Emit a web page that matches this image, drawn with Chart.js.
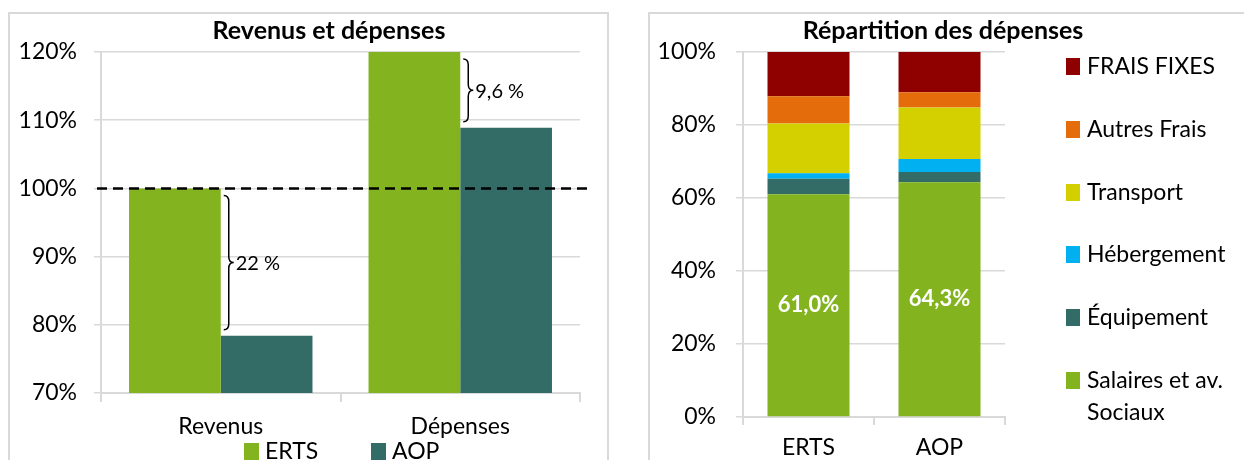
<!DOCTYPE html>
<html lang="fr">
<head>
<meta charset="utf-8">
<title>Revenus et dépenses</title>
<script src="https://cdn.jsdelivr.net/npm/chart.js"></script>
<style>
  html, body { margin: 0; padding: 0; background: #fff; }
  body { width: 1244px; height: 460px; position: relative; overflow: hidden; }
  .box { position: absolute; border: 2px solid #d9d9d9; box-sizing: border-box; }
  canvas { position: absolute; top: 0; }
</style>
</head>
<body>
<div class="box" style="left:8px; top:12px; width:601px; height:520px;"></div>
<div class="box" style="left:648px; top:12px; width:640px; height:520px;"></div>
<canvas id="revChart" width="620" height="460" style="left:0"></canvas>
<canvas id="repChart" width="614" height="460" style="left:630px"></canvas>
<script>
// Revenus et dépenses (base 100 = revenus ERTS)
const revCategories = ['Revenus', 'Dépenses'];
const ertsValues = [100, 120.5];
const aopValues = [78.4, 108.9];
const gapLabels = ['22 %', '9,6 %'];

// Répartition des dépenses (en % du total)
const groups = ['ERTS', 'AOP'];
const salaires = [61.0, 64.3];
const equipement = [4.3, 2.8];
const hebergement = [1.5, 3.6];
const transport = [13.6, 14.1];
const autresFrais = [7.5, 4.2];
const fraisFixes = [12.1, 11.0];

const GREEN = '#83b41f';
const TEAL = '#336b66';
const GRID = '#d9d9d9';
const FONT = 'Lato, "Open Sans", sans-serif';

Chart.defaults.font.family = FONT;
Chart.defaults.color = '#000';

function drawTitle(ctx, text, x) {
  ctx.save();
  ctx.font = 'bold 25px ' + FONT;
  ctx.fillStyle = '#000';
  ctx.textAlign = 'center';
  ctx.textBaseline = 'middle';
  ctx.fillText(text, x, 31);
  ctx.restore();
}

// curly brace between y1 (top) and y2 (bottom), opening to the left
function drawBrace(ctx, x, y1, y2, w) {
  const mid = (y1 + y2) / 2;
  const r = Math.min(6, (y2 - y1) / 4);
  const xm = x + w / 2;
  ctx.beginPath();
  ctx.moveTo(x, y1);
  ctx.quadraticCurveTo(xm, y1, xm, y1 + r);
  ctx.lineTo(xm, mid - r);
  ctx.quadraticCurveTo(xm, mid, x + w, mid);
  ctx.quadraticCurveTo(xm, mid, xm, mid + r);
  ctx.lineTo(xm, y2 - r);
  ctx.quadraticCurveTo(xm, y2, x, y2);
  ctx.stroke();
}

const revDecor = {
  id: 'revDecor',
  afterDatasetsDraw(chart) {
    const { ctx, chartArea, scales } = chart;
    const y = scales.y;

    // reference line at 100 %
    ctx.save();
    ctx.strokeStyle = '#000';
    ctx.lineWidth = 2.5;
    ctx.setLineDash([10, 6]);
    ctx.beginPath();
    ctx.moveTo(chartArea.left - 4, y.getPixelForValue(100));
    ctx.lineTo(chartArea.right + 8, y.getPixelForValue(100));
    ctx.stroke();
    ctx.setLineDash([]);

    // braces showing the gap ERTS / AOP
    const erts = chart.getDatasetMeta(0).data;
    ctx.lineWidth = 1.5;
    ctx.font = '20px ' + FONT;
    ctx.textBaseline = 'middle';
    ctx.fillStyle = '#000';
    revCategories.forEach((c, i) => {
      const bar = erts[i];
      const x0 = bar.x + bar.width / 2 + 3;
      const top = Math.max(y.getPixelForValue(ertsValues[i]), chartArea.top) + 7;
      const bottom = y.getPixelForValue(aopValues[i]) - 6;
      drawBrace(ctx, x0, top, bottom, 10);
      ctx.fillText(gapLabels[i], x0 + 12, (top + bottom) / 2 + 1);
    });
    ctx.restore();
  },
  afterDraw(chart) {
    const ctx = chart.ctx;
    drawTitle(ctx, 'Revenus et dépenses', 329);
    // legend under the axis
    const items = [[244, GREEN, 'ERTS'], [371, TEAL, 'AOP']];
    ctx.save();
    ctx.font = '23px ' + FONT;
    ctx.textBaseline = 'middle';
    items.forEach(([x, col, txt]) => {
      ctx.fillStyle = col;
      ctx.fillRect(x, 443, 15, 17);
      ctx.fillStyle = '#000';
      ctx.fillText(txt, x + 21, 452);
    });
    ctx.restore();
  }
};

new Chart(document.getElementById('revChart'), {
  type: 'bar',
  data: {
    labels: revCategories,
    datasets: [
      { label: 'ERTS', data: ertsValues, backgroundColor: GREEN },
      { label: 'AOP', data: aopValues, backgroundColor: TEAL }
    ]
  },
  options: {
    responsive: false,
    animation: false,
    devicePixelRatio: 1,
    layout: { padding: { left: 0, top: 52, right: 40, bottom: 0 } },
    datasets: { bar: { categoryPercentage: 0.766, barPercentage: 1 } },
    plugins: { legend: { display: false }, tooltip: { enabled: false } },
    scales: {
      y: {
        min: 70, max: 120,
        ticks: { stepSize: 10, padding: 17, font: { size: 23 }, callback: v => v + '%' },
        grid: { color: GRID, lineWidth: 1.5, tickLength: 7 },
        border: { color: GRID, width: 2 },
        afterFit: s => { s.width = 101; }
      },
      x: {
        ticks: { padding: 11, font: { size: 23 } },
        grid: { color: GRID, lineWidth: 2, drawOnChartArea: false, tickLength: 9 },
        border: { color: GRID, width: 2 },
        afterFit: s => { s.height = 67; }
      }
    }
  },
  plugins: [revDecor]
});

const expenseSeries = [
  { label: ['Salaires et av.', 'Sociaux'], data: salaires, color: GREEN },
  { label: ['Équipement'], data: equipement, color: TEAL },
  { label: ['Hébergement'], data: hebergement, color: '#00b0f0' },
  { label: ['Transport'], data: transport, color: '#d4d000' },
  { label: ['Autres Frais'], data: autresFrais, color: '#e46c0a' },
  { label: ['FRAIS FIXES'], data: fraisFixes, color: '#8f0000' }
];

const repDecor = {
  id: 'repDecor',
  afterDatasetsDraw(chart) {
    const ctx = chart.ctx;
    const meta = chart.getDatasetMeta(0);
    ctx.save();
    ctx.font = 'bold 22px ' + FONT;
    ctx.fillStyle = '#fff';
    ctx.textAlign = 'center';
    ctx.textBaseline = 'middle';
    meta.data.forEach((bar, i) => {
      const txt = salaires[i].toFixed(1).replace('.', ',') + '%';
      ctx.fillText(txt, bar.x, (bar.y + bar.base) / 2);
    });
    ctx.restore();
  },
  afterDraw(chart) {
    const ctx = chart.ctx;
    drawTitle(ctx, 'Répartition des dépenses', 313);
    // legend on the right, top to bottom = top of stack first
    ctx.save();
    ctx.font = '23px ' + FONT;
    ctx.textBaseline = 'middle';
    const rowY = [66, 129, 192, 254, 317, 380];
    expenseSeries.slice().reverse().forEach((s, k) => {
      const yy = rowY[k];
      ctx.fillStyle = s.color;
      ctx.fillRect(436, yy - 8, 14, 17);
      ctx.fillStyle = '#000';
      s.label.forEach((line, j) => ctx.fillText(line, 457, yy + 1 + j * 32));
    });
    ctx.restore();
  }
};

new Chart(document.getElementById('repChart'), {
  type: 'bar',
  data: {
    labels: groups,
    datasets: expenseSeries.map(s => ({
      label: s.label.join(' '), data: s.data, backgroundColor: s.color
    }))
  },
  options: {
    responsive: false,
    animation: false,
    devicePixelRatio: 1,
    layout: { padding: { left: 0, top: 52, right: 239, bottom: 0 } },
    datasets: { bar: { categoryPercentage: 0.626, barPercentage: 1 } },
    plugins: { legend: { display: false }, tooltip: { enabled: false } },
    scales: {
      y: {
        stacked: true, min: 0, max: 100,
        ticks: { stepSize: 20, padding: 20, font: { size: 23 }, callback: v => v + '%' },
        grid: { color: GRID, lineWidth: 1.5, tickLength: 7 },
        border: { color: GRID, width: 2 },
        afterFit: s => { s.width = 113; }
      },
      x: {
        stacked: true,
        ticks: { padding: 9, font: { size: 23 } },
        grid: { color: GRID, lineWidth: 2, drawOnChartArea: false, tickLength: 8 },
        border: { color: GRID, width: 2 },
        afterFit: s => { s.height = 43; }
      }
    }
  },
  plugins: [repDecor]
});
</script>
</body>
</html>
